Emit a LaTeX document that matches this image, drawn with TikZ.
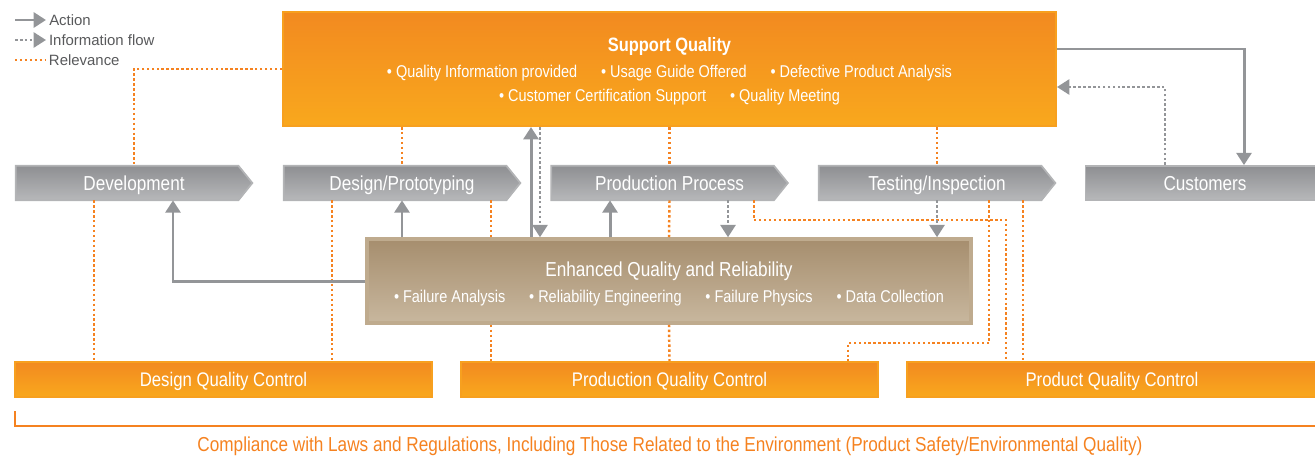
\documentclass[tikz,border=0pt]{standalone}
\usepackage{fontspec}
\setmainfont{Liberation Sans}[FakeStretch=0.85]
\newfontfamily\legendfont{Liberation Sans}
\usetikzlibrary{arrows.meta,backgrounds,calc}

\definecolor{ortop}{HTML}{F28A20}
\definecolor{orbot}{HTML}{F9A81D}
\definecolor{oredge}{HTML}{F7A01F}
\definecolor{relline}{HTML}{F58220}
\definecolor{grtop}{HTML}{8E8F92}
\definecolor{grbot}{HTML}{B7B8BA}
\definecolor{gredge}{HTML}{B3B4B6}
\definecolor{arrowgray}{HTML}{939598}
\definecolor{brtop}{HTML}{A68E6E}
\definecolor{brbot}{HTML}{C8B79E}
\definecolor{bredge}{HTML}{BFAB8E}
\definecolor{legendtext}{HTML}{58595B}

\tikzset{
  orangebox/.style={rectangle, top color=ortop, bottom color=orbot, draw=oredge,
    line width=1.2pt, text=white, inner sep=0pt},
  qcbox/.style={orangebox, minimum height=0.7cm, text height=10.4pt, text depth=2.4pt,
    font=\fontsize{11.2}{13}\selectfont},
  brownbox/.style={rectangle, top color=brtop, bottom color=brbot, draw=bredge,
    line width=2pt, text=white, inner sep=0pt},
  stage/.style={rectangle, minimum width=4.72cm, minimum height=0.68cm,
    text height=10.5pt, text depth=2.4pt,
    text=white, inner sep=0pt, font=\fontsize{11.5}{13}\selectfont},
  stageshade/.style={top color=grtop, bottom color=grbot, draw=gredge, line width=1pt},
  act/.style={draw=arrowgray, line width=1.7pt, -{Triangle[width=8.5pt,length=7pt]}},
  info/.style={draw=arrowgray, line width=1.5pt, dash pattern=on 1.5pt off 1.3pt,
    -{Triangle[width=8.5pt,length=7pt]}},
  rel/.style={draw=relline, line width=1.4pt, dash pattern=on 1.4pt off 1.4pt},
  legend/.style={right, inner sep=1pt, text=legendtext,
    font=\legendfont\fontsize{8.5}{10}\selectfont}
}

\begin{document}
\begin{tikzpicture}[x=0.02cm, y=-0.02cm]
\useasboundingbox (0,0) rectangle (1315,457);

% legend
\coordinate (la) at (15,20);
\coordinate (lb) at (46,20);
\coordinate (lc) at (15,40);
\coordinate (ld) at (46,40);
\coordinate (le) at (15,60);
\coordinate (lf) at (46,60);
\draw[act] (la) -- (lb) node[legend] (lact) {Action};
\draw[info] (lc) -- (ld) node[legend] (linfo) {Information flow};
\draw[rel] (le) -- (lf) node[legend] (lrel) {Relevance};

% boxes
\node[orangebox, minimum width=15.46cm, minimum height=2.28cm, align=center,
  font=\fontsize{9.7}{13.6}\selectfont] (sq) at (669.5,69)
  {\rule{0pt}{10.5pt}{\bfseries\fontsize{11}{13}\selectfont Support Quality}\\[1.6pt]
   • Quality Information provided\hspace{1.4em}• Usage Guide Offered\hspace{1.4em}• Defective Product Analysis\\
   • Customer Certification Support\hspace{1.4em}• Quality Meeting};

\node[stage] (dev) at (134,183) {Development};
\node[stage] (dp) at (402,183) {Design/Prototyping};
\node[stage] (pp) at (669.5,183) {Production Process};
\node[stage] (ti) at (937,183) {Testing/Inspection};
\node[stage, stageshade, minimum width=4.78cm] (cust) at (1205,183) {Customers};

\begin{scope}[on background layer]
\foreach \s in {dev,dp,pp,ti}
  \shade[stageshade] (\s.south west) -- ([xshift=-0.28cm]\s.south east) -- (\s.east)
    -- ([xshift=-0.28cm]\s.north east) -- (\s.north west) -- cycle;
\end{scope}

\node[brownbox, minimum width=12.08cm, minimum height=1.68cm, align=center,
  font=\fontsize{9.7}{14.7}\selectfont] (eq) at (669,281)
  {\rule{0pt}{12pt}{\fontsize{11.5}{13}\selectfont Enhanced Quality and Reliability}\\
   • Failure Analysis\hspace{1.4em}• Reliability Engineering\hspace{1.4em}• Failure Physics\hspace{1.4em}• Data Collection};

\node[qcbox, minimum width=8.34cm] (dqc) at (223.5,379.5) {Design Quality Control};
\node[qcbox, minimum width=8.34cm] (pqc) at (669.5,379.5) {Production Quality Control};
\node[qcbox, minimum width=8.2cm] (prqc) at (1112,379.5) {Product Quality Control};

% compliance bracket
\draw[draw=relline, line width=1.3pt] (15,411) -- (15,426) -- (1320,426);
\node[text=relline, font=\fontsize{11.5}{13}\selectfont] (law) at (670,446)
  {Compliance with Laws and Regulations, Including Those Related to the Environment (Product Safety/Environmental Quality)};

% helper points
\coordinate (x94) at (94,0);
\coordinate (x173) at (173,0);
\coordinate (x332) at (332,0);
\coordinate (x491) at (491,0);
\coordinate (x531) at (531,0);
\coordinate (x540) at (540,0);
\coordinate (x610) at (610,0);
\coordinate (x728) at (728,0);
\coordinate (x754) at (754,0);
\coordinate (x848) at (848,0);
\coordinate (x1023) at (1023,0);
\coordinate (r1) at (1006,220);
\coordinate (r2) at (989,343);
\coordinate (a1) at (1244,49);
\coordinate (i1) at (1165,87);

% relevance
\draw[rel] (sq.west) -| (dev.north);
\draw[rel] (sq.south -| dp.north) -- (dp.north);
\draw[rel] (sq.south) -- (pp.north);
\draw[rel] (sq.south -| ti.north) -- (ti.north);
\draw[rel] (dev.south -| x94) -- (dqc.north -| x94);
\draw[rel] (dp.south -| x332) -- (dqc.north -| x332);
\draw[rel] (dp.south -| x491) -- (eq.north -| x491);
\draw[rel] (eq.south -| x491) -- (pqc.north -| x491);
\draw[rel] (pp.south) -- (eq.north);
\draw[rel] (eq.south) -- (pqc.north);
\draw[rel] (pp.south -| x754) |- (r1) -- (r1 |- prqc.north);
\draw[rel] (ti.south -| r2) -- (r2) -| (pqc.north -| x848);
\draw[rel] (ti.south -| x1023) -- (prqc.north -| x1023);

% actions and information flow
\draw[act] (eq.west) -| (dev.south -| x173);
\draw[act] (eq.north -| dp.south) -- (dp.south);
\draw[act] (eq.north -| x531) -- (sq.south -| x531);
\draw[info] (sq.south -| x540) -- (eq.north -| x540);
\draw[act] (eq.north -| x610) -- (pp.south -| x610);
\draw[info] (pp.south -| x728) -- (eq.north -| x728);
\draw[info] (ti.south) -- (eq.north -| ti.south);
\draw[act] (sq.east |- a1) -| (cust.north -| a1);
\draw[info] (cust.north -| i1) |- (sq.east |- i1);

\end{tikzpicture}
\end{document}
